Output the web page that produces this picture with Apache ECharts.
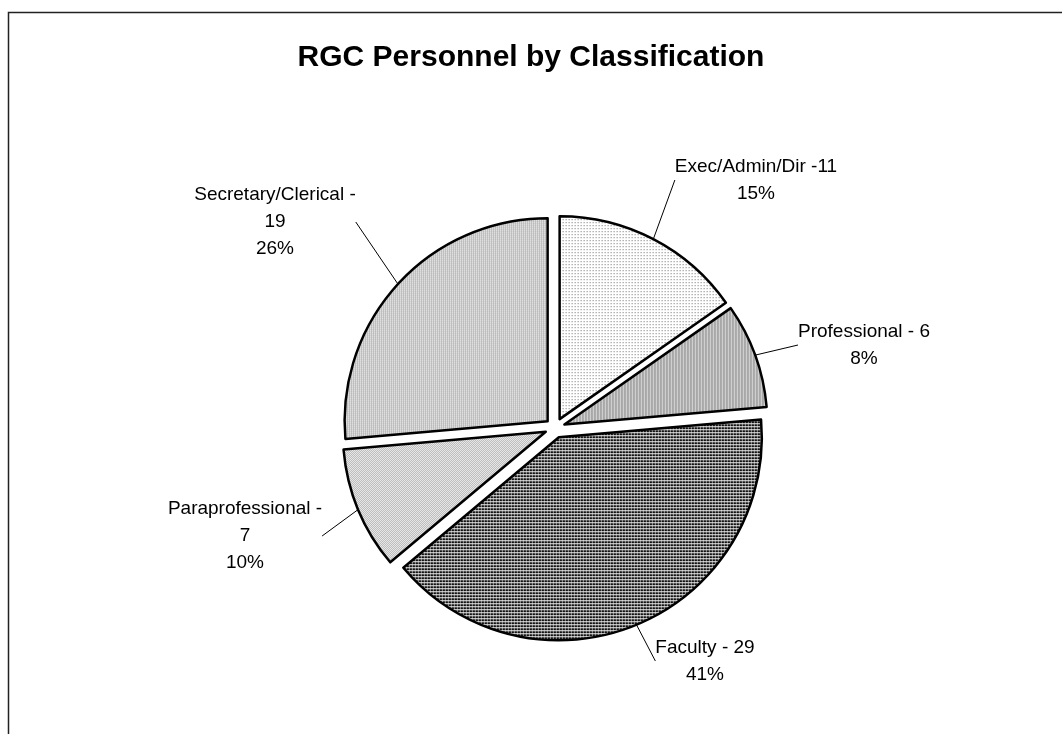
<!DOCTYPE html>
<html>
<head>
<meta charset="utf-8">
<title>RGC Personnel by Classification</title>
<script src="https://cdn.jsdelivr.net/npm/echarts@6/dist/echarts.min.js"></script>
<style>
  html, body { margin: 0; padding: 0; background: #fff; }
  #chart { width: 1062px; height: 734px; }
</style>
</head>
<body>
<div id="chart"></div>
<script>
// Personnel counts per classification
const categories = ['Exec/Admin/Dir', 'Professional', 'Faculty', 'Paraprofessional', 'Secretary/Clerical'];
const counts = [11, 6, 29, 7, 19];
const pctLabels = ['15%', '8%', '41%', '10%', '26%'];

// Separator between name and count (long names wrap the count onto its own line)
const separators = [' -', ' - ', ' - ', ' -\n', ' -\n'];

// Label block centres, in pixels
const labelAnchors = [[756, 180], [864, 345], [705, 661], [245, 536], [275, 222]];

// Small repeating tiles used as fill patterns
function tile(w, h, fn) {
  const c = document.createElement('canvas');
  c.width = w; c.height = h;
  const ctx = c.getContext('2d');
  for (let y = 0; y < h; y++) {
    for (let x = 0; x < w; x++) {
      ctx.fillStyle = fn(x, y);
      ctx.fillRect(x, y, 1, 1);
    }
  }
  return { image: c, repeat: 'repeat' };
}

const patterns = [
  // sparse dots
  tile(3, 3, (x, y) => (x === 0 && y === 0) ? '#6e6e6e' : '#ffffff'),
  // vertical grey stripes
  tile(3, 1, (x) => ['#8a8a8a', '#c4c4c4', '#d6d6d6'][x]),
  // dark grid
  tile(3, 3, (x, y) => y === 0 ? '#f0f0f0' : (x === 0 ? '#8a8a8a' : '#111111')),
  // fine checkerboard
  tile(2, 2, (x, y) => ((x + y) % 2 === 0) ? '#a6a6a6' : '#ffffff'),
  // fine vertical lines
  tile(2, 2, (x, y) => x === 0 ? '#a8a8a8' : (y === 0 ? '#e4e4e4' : '#ffffff'))
];

const FONT = '"Liberation Sans", Arial, sans-serif';
const CENTER = [555, 428];
const RADIUS = 203;
const EXPLODE = 10;

const chart = echarts.init(document.getElementById('chart'), null, { renderer: 'canvas' });

// Exploded, pattern-filled slices
const sliceData = categories.map((name, i) => ({
  name: name,
  value: counts[i],
  selected: true,
  itemStyle: { color: patterns[i] },
  select: { itemStyle: { color: patterns[i], borderColor: '#000', borderWidth: 2.5 } }
}));

// Invisible twin whose arc runs along the exploded slices' outer edge; it carries the labels
const labelData = categories.map((name, i) => ({ name: name, value: counts[i] }));

chart.setOption({
  backgroundColor: '#ffffff',
  animation: false,
  title: {
    text: 'RGC Personnel by Classification',
    left: 'center',
    top: 38,
    textStyle: { fontFamily: FONT, fontSize: 30, fontWeight: 'bold', color: '#000' }
  },
  graphic: [{
    type: 'rect',
    shape: { x: 8.5, y: 12.5, width: 1200, height: 900 },
    style: { fill: 'none', stroke: '#222', lineWidth: 1.5 },
    silent: true
  }],
  series: [{
    type: 'pie',
    center: CENTER,
    radius: RADIUS,
    startAngle: 90,
    clockwise: true,
    selectedMode: 'multiple',
    selectedOffset: EXPLODE,
    emphasis: { disabled: true },
    itemStyle: { borderColor: '#000', borderWidth: 2.5 },
    label: { show: false },
    labelLine: { show: false },
    data: sliceData
  }, {
    type: 'pie',
    center: CENTER,
    radius: RADIUS + EXPLODE,
    startAngle: 90,
    clockwise: true,
    silent: true,
    selectedMode: false,
    avoidLabelOverlap: false,
    emphasis: { disabled: true },
    itemStyle: { color: 'rgba(0,0,0,0)', borderWidth: 0 },
    label: {
      show: true,
      position: 'outside',
      color: '#000',
      fontFamily: FONT,
      fontSize: 19,
      lineHeight: 27,
      align: 'center',
      formatter: (p) => p.name + separators[p.dataIndex] + p.value + '\n' + pctLabels[p.dataIndex]
    },
    labelLine: {
      show: true,
      length: 20,
      length2: 0,
      smooth: false,
      lineStyle: { color: '#000', width: 1 }
    },
    labelLayout: (params) => {
      const a = labelAnchors[params.dataIndex];
      return { x: a[0], y: a[1], align: 'center', verticalAlign: 'middle' };
    },
    data: labelData
  }]
});
</script>
</body>
</html>
